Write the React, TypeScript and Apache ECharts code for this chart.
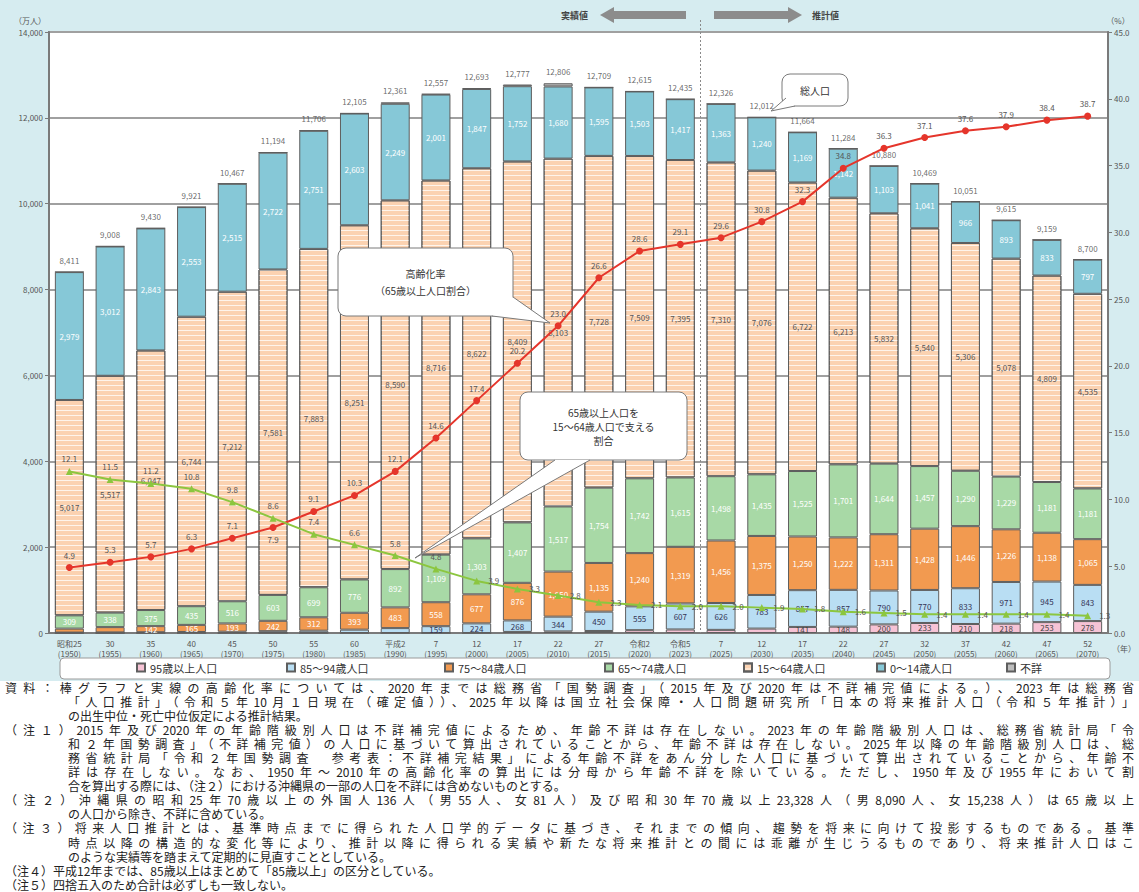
import React, { useEffect, useRef } from 'react';
import * as echarts from 'echarts';

const eraLabels = ['昭和25', '30', '35', '40', '45', '50', '55', '60', '平成2', '7', '12', '17', '22', '27', '令和2', '令和5', '7', '12', '17', '22', '27', '32', '37', '42', '47', '52'];
const yearLabels = ['1950', '1955', '1960', '1965', '1970', '1975', '1980', '1985', '1990', '1995', '2000', '2005', '2010', '2015', '2020', '2023', '2025', '2030', '2035', '2040', '2045', '2050', '2055', '2060', '2065', '2070'];

const totals = [8411, 9008, 9430, 9921, 10467, 11194, 11706, 12105, 12361, 12557, 12693, 12777, 12806, 12709, 12615, 12435, 12326, 12012, 11664, 11284, 10880, 10469, 10051, 9615, 9159, 8700];
const age95plus = [0, 0, 0, 0, 0, 0, 0, 0, 0, 0, 0, 25, 37, 47, 66, 82, 73, 103, 141, 148, 200, 233, 210, 218, 253, 278];
const age85to94 = [10, 14, 18, 24, 30, 42, 54, 78, 114, 159, 224, 268, 344, 450, 555, 607, 626, 783, 857, 857, 790, 770, 833, 971, 945, 843];
const age75to84 = [92, 123, 142, 165, 193, 242, 312, 393, 483, 558, 677, 876, 1050, 1135, 1240, 1319, 1456, 1375, 1250, 1222, 1311, 1428, 1446, 1226, 1138, 1065];
const age65to74 = [309, 338, 375, 435, 516, 603, 699, 776, 892, 1109, 1303, 1407, 1517, 1754, 1742, 1615, 1498, 1435, 1525, 1701, 1644, 1457, 1290, 1229, 1181, 1181];
const age15to64 = [5017, 5517, 6047, 6744, 7212, 7581, 7883, 8251, 8590, 8716, 8622, 8409, 8103, 7728, 7509, 7395, 7310, 7076, 6722, 6213, 5832, 5540, 5306, 5078, 4809, 4535];
const age0to14 = [2979, 3012, 2843, 2553, 2515, 2722, 2751, 2603, 2249, 2001, 1847, 1752, 1680, 1595, 1503, 1417, 1363, 1240, 1169, 1142, 1103, 1041, 966, 893, 833, 797];
const ageUnknown = [4, 4, 5, 0, 1, 4, 7, 4, 33, 14, 20, 40, 75, 0, 0, 0, 0, 0, 0, 0, 0, 0, 0, 0, 0, 0];
const agingRate = [4.9, 5.3, 5.7, 6.3, 7.1, 7.9, 9.1, 10.3, 12.1, 14.6, 17.4, 20.2, 23.0, 26.6, 28.6, 29.1, 29.6, 30.8, 32.3, 34.8, 36.3, 37.1, 37.6, 37.9, 38.4, 38.7];
const supportRatio = [12.1, 11.5, 11.2, 10.8, 9.8, 8.6, 7.4, 6.6, 5.8, 4.8, 3.9, 3.3, 2.8, 2.3, 2.1, 2.0, 2.0, 1.9, 1.8, 1.6, 1.5, 1.4, 1.4, 1.4, 1.4, 1.3];

const seriesNames = ['95歳以上人口', '85～94歳人口', '75～84歳人口', '65～74歳人口', '15～64歳人口', '0～14歳人口', '不詳'];

const noteLines: { text: string; indent: boolean; full: boolean }[] = [
  { text: '資料：棒グラフと実線の高齢化率については、2020年までは総務省「国勢調査」（2015年及び2020年は不詳補完値による。）、2023年は総務省', indent: false, full: true },
  { text: '「人口推計」（令和５年10月１日現在（確定値））、2025年以降は国立社会保障・人口問題研究所「日本の将来推計人口（令和５年推計）」', indent: true, full: true },
  { text: 'の出生中位・死亡中位仮定による推計結果。', indent: true, full: false },
  { text: '（注１）2015年及び2020年の年齢階級別人口は不詳補完値によるため、年齢不詳は存在しない。2023年の年齢階級別人口は、総務省統計局「令', indent: false, full: true },
  { text: '和２年国勢調査」（不詳補完値）の人口に基づいて算出されていることから、年齢不詳は存在しない。2025年以降の年齢階級別人口は、総', indent: true, full: true },
  { text: '務省統計局「令和２年国勢調査　参考表：不詳補完結果」による年齢不詳をあん分した人口に基づいて算出されていることから、年齢不', indent: true, full: true },
  { text: '詳は存在しない。なお、1950年～2010年の高齢化率の算出には分母から年齢不詳を除いている。ただし、1950年及び1955年において割', indent: true, full: true },
  { text: '合を算出する際には、（注２）における沖縄県の一部の人口を不詳には含めないものとする。', indent: true, full: false },
  { text: '（注２）沖縄県の昭和25年70歳以上の外国人136人（男55人、女81人）及び昭和30年70歳以上23,328人（男8,090人、女15,238人）は65歳以上', indent: false, full: true },
  { text: 'の人口から除き、不詳に含めている。', indent: true, full: false },
  { text: '（注３）将来人口推計とは、基準時点までに得られた人口学的データに基づき、それまでの傾向、趨勢を将来に向けて投影するものである。基準', indent: false, full: true },
  { text: '時点以降の構造的な変化等により、推計以降に得られる実績や新たな将来推計との間には乖離が生じうるものであり、将来推計人口はこ', indent: true, full: true },
  { text: 'のような実績等を踏まえて定期的に見直すこととしている。', indent: true, full: false },
  { text: '（注４）平成12年までは、85歳以上はまとめて「85歳以上」の区分としている。', indent: false, full: false },
  { text: '（注５）四捨五入のため合計は必ずしも一致しない。', indent: false, full: false },
];

const FONT = '"Noto Sans CJK JP", "Noto Sans", sans-serif';

export default function App() {
  const ref = useRef<HTMLDivElement>(null);

  useEffect(() => {
    if (!ref.current) return;
    const chart = echarts.init(ref.current, null, { renderer: 'svg' });
    const fmt = (v: number) => Number(v).toLocaleString('en-US');
    const categories = eraLabels.map((e, i) => `${e}\n(${yearLabels[i]})`);

    const segLabel = (color: string, min: number) => ({
      show: true,
      position: 'inside',
      fontSize: 8,
      color,
      fontFamily: FONT,
      formatter: (p: any) => (p.value >= min ? fmt(p.value) : ''),
    });
    const bar = (name: string, data: number[], color: string, labelColor: string, min: number, extra: any = {}) => ({
      name,
      type: 'bar',
      stack: 'pop',
      barWidth: 29,
      yAxisIndex: 0,
      data,
      itemStyle: { color, borderColor: '#5e5e5e', borderWidth: 1, ...extra },
      label: segLabel(labelColor, min),
    });

    const colors = ['#f6c3d5', '#b9def3', '#f29a50', '#a8d9a6', '#fbd2b1', '#86c8d7', '#bdbdbd'];

    const txt = (x: number, y: number, text: string, size: number, opts: any = {}) => ({
      type: 'text',
      z: 100,
      style: {
        x, y, text,
        fontSize: size,
        fontFamily: FONT,
        fill: opts.fill || '#333',
        fontWeight: opts.weight || 'normal',
        align: opts.align || 'center',
        textAlign: opts.align || 'center',
        verticalAlign: 'middle',
        textVerticalAlign: 'middle',
      },
    });

    const callout = (x: number, y: number, w: number, h: number, tail: number[][], lines: string[], lineGap: number, size: number) => {
      const cx = x + w / 2;
      const startY = y + h / 2 - ((lines.length - 1) * lineGap) / 2;
      return [
        { type: 'rect', z: 100, shape: { x, y, width: w, height: h, r: 8 }, style: { fill: '#fff', stroke: '#7a7a7a', lineWidth: 1 } },
        { type: 'polygon', z: 101, shape: { points: tail }, style: { fill: '#fff', stroke: 'none' } },
        { type: 'polyline', z: 102, shape: { points: [tail[0], tail[2], tail[1]] }, style: { stroke: '#7a7a7a', lineWidth: 1, fill: 'none' } },
        ...lines.map((l, i) => ({ ...txt(cx, startY + i * lineGap, l, size), z: 103 })),
      ];
    };

    const legendX = [136, 286, 444, 604, 743, 876, 1006];

    const agingData = agingRate.map((v, i) => (i === 5 ? { value: v, label: { position: 'bottom', distance: 5 } } : v));
    const supportData = supportRatio.map((v, i) => (i >= 10 ? { value: v, label: { position: 'right', distance: 8 } } : v));

    chart.setOption({
      animation: false,
      backgroundColor: '#d6ecf0',
      textStyle: { fontFamily: FONT },
      grid: { left: 49, right: 31, top: 32, bottom: 50, show: true, backgroundColor: '#ffffff', borderColor: '#8a8a8a', borderWidth: 2 },
      legend: seriesNames.map((n, i) => ({
        data: [n],
        left: legendX[i],
        top: 662,
        padding: 0,
        icon: 'rect',
        itemWidth: 8,
        itemHeight: 8,
        itemGap: 0,
        z: 10,
        textStyle: { fontSize: 11, color: '#333', fontFamily: FONT },
      })),
      xAxis: {
        type: 'category',
        data: categories,
        axisLine: { lineStyle: { color: '#7a7a7a', width: 2 } },
        axisTick: { show: false },
        axisLabel: { interval: 0, fontSize: 8, color: '#555', lineHeight: 10, margin: 5 },
      },
      yAxis: [
        {
          type: 'value', min: 0, max: 14000, interval: 2000,
          axisLine: { show: true, lineStyle: { color: '#7a7a7a', width: 2 } },
          axisTick: { show: true, length: 4, lineStyle: { color: '#7a7a7a' } },
          axisLabel: { fontSize: 8, color: '#555', margin: 6, formatter: (v: number) => fmt(v) },
          splitLine: { show: true, lineStyle: { color: '#a0a0a0', width: 2 } },
        },
        {
          type: 'value', min: 0, max: 45, interval: 5, position: 'right',
          axisLine: { show: true, lineStyle: { color: '#7a7a7a', width: 2 } },
          axisTick: { show: true, length: 4, lineStyle: { color: '#7a7a7a' } },
          axisLabel: { fontSize: 8, color: '#555', margin: 6, formatter: (v: number) => v.toFixed(1) },
          splitLine: { show: false },
        },
      ],
      series: [
        bar(seriesNames[0], age95plus, colors[0], '#444', 140),
        bar(seriesNames[1], age85to94, colors[1], '#335', 140),
        bar(seriesNames[2], age75to84, colors[2], '#ffffff', 140),
        bar(seriesNames[3], age65to74, colors[3], '#ffffff', 140),
        bar(seriesNames[4], age15to64, colors[4], '#555', 140, {
          decal: { symbol: 'rect', symbolSize: 1, dashArrayX: [1, 0], dashArrayY: [1, 4], color: 'rgba(255,255,255,0.75)', rotation: 0 },
        }),
        bar(seriesNames[5], age0to14, colors[5], '#ffffff', 140),
        bar(seriesNames[6], ageUnknown, colors[6], '#444', 100000),
        {
          name: '総人口',
          type: 'scatter',
          yAxisIndex: 0,
          data: totals,
          symbol: 'circle',
          symbolSize: 1,
          itemStyle: { color: 'rgba(0,0,0,0)' },
          label: { show: true, position: 'top', distance: 7, fontSize: 8, color: '#444', formatter: (p: any) => fmt(p.value) },
          z: 5,
        },
        {
          name: '高齢化率',
          type: 'line',
          yAxisIndex: 1,
          data: agingData,
          symbol: 'circle',
          symbolSize: 7,
          lineStyle: { color: '#e5352b', width: 2 },
          itemStyle: { color: '#e5352b' },
          label: { show: true, position: 'top', distance: 5, fontSize: 8, color: '#555', formatter: (p: any) => Number(p.value).toFixed(1) },
          z: 6,
        },
        {
          name: '支える割合',
          type: 'line',
          yAxisIndex: 1,
          data: supportData,
          symbol: 'triangle',
          symbolSize: 7,
          lineStyle: { color: '#8cc63f', width: 2 },
          itemStyle: { color: '#8cc63f' },
          label: { show: true, position: 'top', distance: 5, fontSize: 8, color: '#555', formatter: (p: any) => Number(p.value).toFixed(1) },
          z: 6,
        },
      ],
      graphic: [
        { type: 'rect', z: 1, shape: { x: 60, y: 658, width: 1050, height: 21, r: 4 }, style: { fill: '#ffffff', stroke: '#9a9a9a', lineWidth: 1 } },
        txt(30, 20, '（万人）', 8, { fill: '#555' }),
        txt(1118, 20, '（%）', 8, { fill: '#555' }),
        txt(1124, 648, '（年）', 8, { fill: '#555' }),
        { type: 'line', z: 3, shape: { x1: 700.5, y1: 20, x2: 700.5, y2: 633 }, style: { stroke: '#8a8a8a', lineWidth: 1, lineDash: [2, 2] } },
        { type: 'polygon', z: 100, shape: { points: [[600, 15], [614, 7], [614, 11], [686, 11], [686, 19], [614, 19], [614, 23]] }, style: { fill: '#8c8c8c' } },
        { type: 'polygon', z: 100, shape: { points: [[714, 11], [788, 11], [788, 7], [802, 15], [788, 23], [788, 19], [714, 19]] }, style: { fill: '#8c8c8c' } },
        txt(588, 15, '実績値', 9, { align: 'right', weight: 'bold', fill: '#444' }),
        txt(812, 15, '推計値', 9, { align: 'left', weight: 'bold', fill: '#444' }),
        ...callout(782, 74, 66, 32, [[786, 98], [795, 106], [771, 111]], ['総人口'], 12, 10),
        ...callout(338, 248, 175, 68, [[492, 316], [513, 297], [550, 323]], ['高齢化率', '（65歳以上人口割合）'], 17, 10),
        ...callout(520, 392, 167, 68, [[555, 460], [590, 460], [415, 558]], ['65歳以上人口を', '15～64歳人口で支える', '割合'], 14, 10),
      ],
    });

    return () => chart.dispose();
  }, []);

  return (
    <div style={{ position: 'absolute', left: 0, top: 0, width: 1139, height: 892, background: '#fff' }}>
      <div ref={ref} style={{ position: 'absolute', left: 0, top: 0, width: 1139, height: 683 }} />
      <div
        style={{
          position: 'absolute', left: 0, top: 681, width: 1139, height: 211, paddingLeft: 5, boxSizing: 'border-box',
          background: '#ffffff',
          fontFamily: FONT, fontSize: 12, lineHeight: '14.05px', color: '#222',
        }}
      >
        {noteLines.map((l, i) => (
          <div
            key={i}
            style={{
              width: 1129,
              boxSizing: 'border-box',
              paddingLeft: l.indent ? 63 : 0,
              textAlign: 'justify',
              textAlignLast: l.full ? 'justify' : 'left',
              whiteSpace: 'nowrap',
            } as any}
          >
            {l.text}
          </div>
        ))}
      </div>
    </div>
  );
}
